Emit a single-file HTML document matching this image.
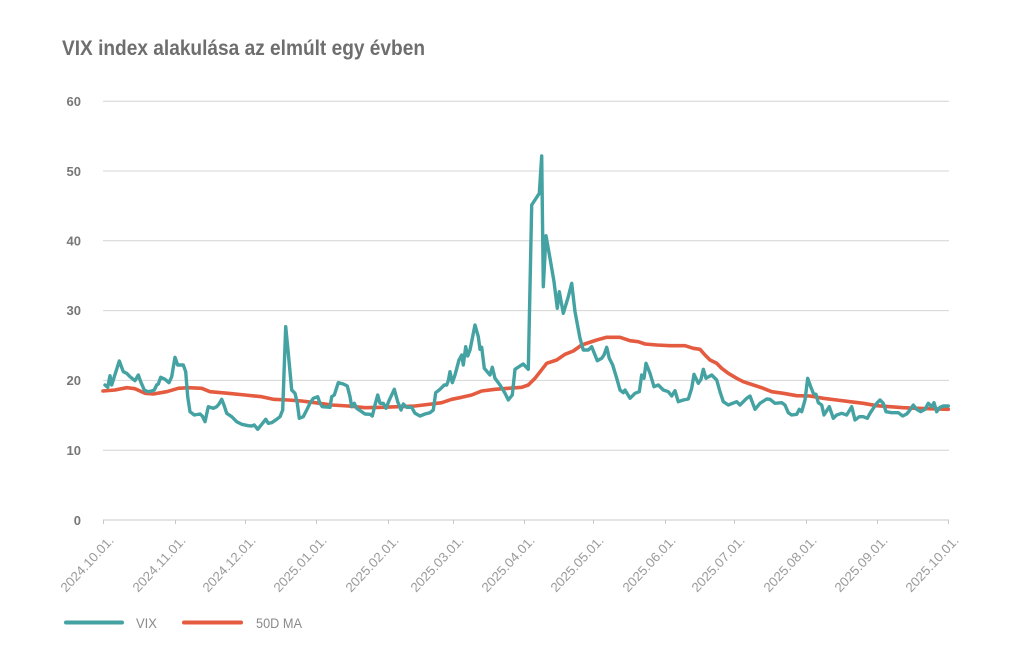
<!DOCTYPE html>
<html>
<head>
<meta charset="utf-8">
<style>
html,body{margin:0;padding:0;background:#fff;}
svg{display:block;}
</style>
</head>
<body>
<svg width="1024" height="662" viewBox="0 0 1024 662" xmlns="http://www.w3.org/2000/svg">
<rect width="1024" height="662" fill="#fff"/>
<text x="62" y="55" font-family="Liberation Sans, sans-serif" font-size="21" font-weight="bold" fill="#6e6e6e" textLength="363" lengthAdjust="spacingAndGlyphs">VIX index alakulása az elmúlt egy évben</text>

<g stroke="#d4d4d4" stroke-width="1">
<line x1="103" y1="101.2" x2="949" y2="101.2"/>
<line x1="103" y1="171" x2="949" y2="171"/>
<line x1="103" y1="240.8" x2="949" y2="240.8"/>
<line x1="103" y1="310.6" x2="949" y2="310.6"/>
<line x1="103" y1="380.4" x2="949" y2="380.4"/>
<line x1="103" y1="450.2" x2="949" y2="450.2"/>
<line x1="103" y1="520" x2="949" y2="520" stroke="#c8c8c8"/>
</g>
<g stroke="#c8c8c8" stroke-width="1">
<line x1="103.5" y1="520" x2="103.5" y2="524"/>
<line x1="175.5" y1="520" x2="175.5" y2="524"/>
<line x1="245.5" y1="520" x2="245.5" y2="524"/>
<line x1="316.5" y1="520" x2="316.5" y2="524"/>
<line x1="388.5" y1="520" x2="388.5" y2="524"/>
<line x1="453.5" y1="520" x2="453.5" y2="524"/>
<line x1="524.5" y1="520" x2="524.5" y2="524"/>
<line x1="593.5" y1="520" x2="593.5" y2="524"/>
<line x1="665.5" y1="520" x2="665.5" y2="524"/>
<line x1="734.5" y1="520" x2="734.5" y2="524"/>
<line x1="806.5" y1="520" x2="806.5" y2="524"/>
<line x1="877.5" y1="520" x2="877.5" y2="524"/>
<line x1="948.5" y1="520" x2="948.5" y2="524"/>
</g>

<g font-family="Liberation Sans, sans-serif" font-size="13" font-weight="bold" fill="#777" text-anchor="end">
<text x="81" y="106">60</text>
<text x="81" y="176">50</text>
<text x="81" y="245.5">40</text>
<text x="81" y="315">30</text>
<text x="81" y="385">20</text>
<text x="81" y="455">10</text>
<text x="81" y="525">0</text>
</g>

<g font-family="Liberation Sans, sans-serif" font-size="13" fill="#9a9a9a" text-anchor="end">
<text transform="translate(114.5,541) rotate(-47)" textLength="71" lengthAdjust="spacingAndGlyphs">2024.10.01.</text>
<text transform="translate(186.5,541) rotate(-47)" textLength="71" lengthAdjust="spacingAndGlyphs">2024.11.01.</text>
<text transform="translate(256.5,541) rotate(-47)" textLength="71" lengthAdjust="spacingAndGlyphs">2024.12.01.</text>
<text transform="translate(327.5,541) rotate(-47)" textLength="71" lengthAdjust="spacingAndGlyphs">2025.01.01.</text>
<text transform="translate(399.5,541) rotate(-47)" textLength="71" lengthAdjust="spacingAndGlyphs">2025.02.01.</text>
<text transform="translate(464.5,541) rotate(-47)" textLength="71" lengthAdjust="spacingAndGlyphs">2025.03.01.</text>
<text transform="translate(535.5,541) rotate(-47)" textLength="71" lengthAdjust="spacingAndGlyphs">2025.04.01.</text>
<text transform="translate(604.5,541) rotate(-47)" textLength="71" lengthAdjust="spacingAndGlyphs">2025.05.01.</text>
<text transform="translate(676.5,541) rotate(-47)" textLength="71" lengthAdjust="spacingAndGlyphs">2025.06.01.</text>
<text transform="translate(745.5,541) rotate(-47)" textLength="71" lengthAdjust="spacingAndGlyphs">2025.07.01.</text>
<text transform="translate(817.5,541) rotate(-47)" textLength="71" lengthAdjust="spacingAndGlyphs">2025.08.01.</text>
<text transform="translate(888.5,541) rotate(-47)" textLength="71" lengthAdjust="spacingAndGlyphs">2025.09.01.</text>
<text transform="translate(959.5,541) rotate(-47)" textLength="71" lengthAdjust="spacingAndGlyphs">2025.10.01.</text>
</g>

<polyline fill="none" stroke="#e45b40" stroke-width="3.6" stroke-linejoin="round" stroke-linecap="round" points="103,391 115,390 126.7,387.7 135,388.7 145,393.3 153.3,394 166.7,391.7 178.3,388.3 188.3,387.7 201.7,388.3 210,391.7 228.3,393.3 245,395 261.7,396.7 273.3,399.3 288.3,400 301.7,401 315,402.7 331.7,405 348.3,406 365,407.7 381.7,407.3 398.3,406.7 415,406 431.7,404 441.7,402.7 451.7,399.3 461.7,397.3 471.7,395 481.7,391 495,389.3 508.3,388.3 521.7,387.3 528.3,385 535,378.3 546.7,363.3 556.7,360 565,354.3 573.3,351 581.7,345 596.7,340 606.7,337.3 620,337.3 630,340.7 638.3,341.7 645,344 656.7,345 670,345.7 685,345.7 693.3,348.3 700,349.3 705,355 710,360 716.7,363.3 721.7,368.3 728.3,373.3 736.7,378.3 743.3,381.7 753.3,385 763.3,388.3 771.7,391.7 783.3,393.3 796.7,395.7 810,396 823.3,398.3 836.7,400 850,401.7 863.3,403.3 876.7,405.7 890,406.7 903.3,407.7 916.7,408.3 930,408.7 948.3,409.3"/>

<polyline fill="none" stroke="#45a2a3" stroke-width="3.4" stroke-linejoin="round" stroke-linecap="round" points="105,385 107.7,387.3 110,375.7 111.7,385 114.3,376.7 119.3,361 123.3,371.7 126.7,373.3 130,376.7 135,380.7 138.3,375 140.7,381.7 144.3,390 147.7,391.7 151.7,391 154.3,390 156.7,385 158.3,384 160.7,377.3 165,379.3 169,382.7 171.7,376.7 175,357.3 177.7,365 183.3,365 185.7,371.7 187.7,396.7 190,411.7 194.3,415 200,414 202.3,416 205,421.7 208.3,406.7 213.3,408.3 216.7,406.7 219,404 221.7,399.3 224.3,406 226.7,413.3 231.7,416.7 236.7,421.7 241.7,424.3 248.3,425.7 251.7,426 254.3,425 257.7,429.3 261.7,424.3 265.7,419.3 268.3,423.3 271.7,422.7 276.7,419.3 280,416.7 282.7,410 285.7,326.7 288.3,353.3 291.7,390 295,393.3 297.3,403.3 299.3,418.3 303.3,416.7 306.7,410 310,403.3 313.3,398.3 317.7,396.7 320,403.3 322.3,406.7 330,407.3 331.7,396.7 334.3,395 338.3,382.7 343.3,384 347.3,386 350,396.7 351.7,406.7 354.3,403.3 356.7,408.3 361.7,411.7 365,414 370,414.3 372.3,416 375,405 377.7,395 380,403.3 383.3,403.3 386,408.3 389,400.7 394.3,389.3 397.7,401.7 401,410 403.3,404 406.7,407.3 411.7,407.3 415,413.3 420,416 425,414 430,412.7 433.3,410 435.7,392.7 440,389.3 444.3,385 446.7,385 448.3,380.7 450,371.7 452.3,382.7 455,375 459,360 461.7,355 463.3,365 465.7,346.7 467.7,356 470,350 475,325 478.3,336.7 480,349.3 481.7,347.3 484.3,368.3 490,375 492.3,367.3 495,378.3 500,385 505,393.3 508.3,400 512.3,395 515,369.3 520,366 523.3,364 528.3,369.3 531.7,205 539.3,193.3 541.7,156 543.3,286.7 546,235.7 550,258.3 554,281.7 557.3,308.3 559.3,291.7 563.3,313.3 568.3,296.7 571.7,283.3 575,311.7 580,338.3 583.3,350 588.3,350 591.7,346.7 597.3,360.7 601.7,358.3 604,355 606.7,347.3 609.3,358.3 612.7,365 616.7,378.3 620,390 623.3,392.7 625,390 630,398.3 635,393.3 639.3,391.7 641.7,375 644,378.3 646,363.3 650,373.3 654,386.7 658.3,385 663.3,390 668.3,391.7 671.7,396 675,390.7 678.3,401.7 683.3,400 688.3,399 691.7,388.3 694,374.3 698.3,383.3 701,379.3 703.3,369.3 706,378.3 711.7,375 716.7,380 720,391.7 723.3,401.7 728.3,405 736.7,401.7 740,405 746.7,398.3 750,396 755,409.3 760,403.3 766.7,399 770,399.3 775,403.3 781.7,402.7 785,405 788.3,412.7 791.7,415 796.7,414.3 799.3,409.3 801.7,411.7 805,400 807.7,378.3 810.7,386.7 813.3,393.3 816,394.3 818.3,402.7 821.7,405 824,415 829.3,406.7 833.3,418.3 836.7,415 841.7,413.3 846.7,415 851.7,406.7 855,420 859.3,416.7 863.3,416.7 867.3,418.3 870,413.3 873.3,408.3 876.7,403.3 880,400 883.3,403.3 886,411.7 891.7,412.7 898.3,412.7 902.7,416 906.7,414 910,410 913.3,405 916.7,409.3 920.7,411.7 925,409.3 928.3,403.3 931.7,406.7 934,402.7 936.7,411.7 940,407.3 943.3,406 948.3,406"/>

<line x1="66" y1="622.5" x2="122" y2="622.5" stroke="#45a2a3" stroke-width="4" stroke-linecap="round"/>
<line x1="184" y1="622.5" x2="241" y2="622.5" stroke="#e45b40" stroke-width="4" stroke-linecap="round"/>
<g font-family="Liberation Sans, sans-serif" font-size="14" fill="#8a8a8a">
<text x="136" y="628" textLength="21" lengthAdjust="spacingAndGlyphs">VIX</text>
<text x="256" y="628" textLength="46" lengthAdjust="spacingAndGlyphs">50D MA</text>
</g>
</svg>
</body>
</html>
